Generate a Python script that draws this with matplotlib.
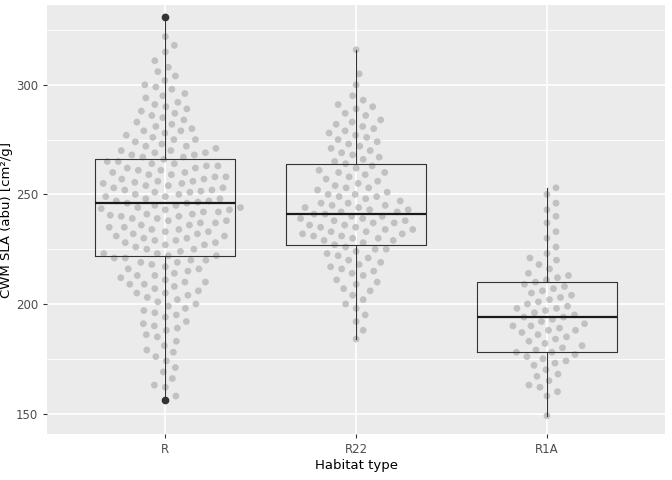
import numpy as np
import matplotlib.pyplot as plt

habitats = ["R", "R22", "R1A"]

sla_r = [156, 158, 162, 163, 166, 169, 171, 174, 176, 178, 179,
         181, 183, 185, 186, 188, 189, 190, 191, 192, 194, 195, 196, 197, 198, 199,
         200, 201, 202, 203, 204, 205, 205, 206, 207, 208, 209, 209,
         210, 210, 211, 212, 213, 213, 214, 215, 216, 216, 217, 218, 219, 219,
         220, 220, 221, 221, 222, 222, 223, 223, 224, 225, 225, 226, 227, 227, 228, 228, 229, 229,
         230, 230, 231, 231, 232, 232, 233, 233, 234, 234, 235, 235, 236, 236, 237, 237, 238, 238, 239, 239,
         240, 240, 241, 241, 242, 242, 243, 243, 244, 244, 245, 245, 246, 246, 247, 247, 248, 248, 249, 249,
         240.5, 243.5, 246.5,
         250, 250, 251, 251, 252, 252, 253, 253, 254, 254, 255, 255, 256, 256, 257, 257, 258, 258, 259, 259,
         251.5, 255.5,
         260, 260, 261, 261, 262, 262, 263, 263, 264, 264, 265, 265, 266, 267, 267, 268, 268, 269, 269,
         270, 270, 271, 272, 272, 273, 274, 275, 275, 276, 277, 278, 279, 279,
         280, 281, 282, 283, 284, 285, 286, 287, 288, 289,
         290, 291, 292, 294, 295, 296, 298, 299, 300, 302, 304, 306, 308,
         311, 315, 318, 322, 331]

sla_r22 = [184, 188, 192, 195, 198, 200, 202, 204, 206, 207, 209,
           210, 211, 213, 214, 215, 216, 217, 218, 219,
           220, 221, 222, 223, 224, 225, 225, 226, 227, 228, 229, 229,
           230, 230, 231, 231, 232, 232, 233, 233, 234, 234, 235, 235, 236, 236, 237, 237, 238, 238, 239, 239,
           240, 240, 241, 241, 242, 242, 243, 243, 244, 244, 245, 245, 246, 246, 247, 248, 249, 249,
           250, 250, 251, 252, 253, 253, 254, 255, 256, 257, 258, 259,
           260, 260, 261, 262, 263, 264, 265, 266, 267, 268, 269,
           270, 271, 272, 273, 274, 275, 276, 277, 278, 279,
           280, 281, 282, 283, 284, 286, 287, 289, 290, 291, 293, 295, 300, 305, 316]

sla_r1a = [149, 158, 160, 162, 163, 165, 167, 168, 170, 172, 173, 174, 175, 176, 177, 178, 178, 179,
           180, 181, 182, 183, 184, 185, 186, 187, 188, 188, 189, 190, 190, 191, 192, 193, 194, 194,
           195, 196, 197, 198, 198, 199, 200, 201, 202, 203, 204, 205, 206, 207, 208, 209, 210, 211,
           212, 213, 214, 216, 218, 220, 221, 223, 226, 230, 233, 237, 240, 243, 246, 250, 253]

# box stats: whisker low, q1, median, q3, whisker high
box_lo = [156, 184, 149]
box_q1 = [222, 227, 178]
box_med = [246, 241, 194]
box_q3 = [266, 264, 210]
box_hi = [331, 316, 253]
outliers = [[156, 331], [], []]

PX_X = 190.5   # px per category
PX_Y = 2.127   # px per y unit
SPACING = 11.0


def swarm(vals):
    ys = np.array(sorted(vals), float)
    placed = []
    xs = []
    for y in ys:
        yp = y * PX_Y
        best = None
        for k in range(0, 600):
            for s in ([0] if k == 0 else [1, -1]):
                cand = s * k * 0.5
                ok = all((cand - px) ** 2 + (yp - py) ** 2 >= SPACING ** 2
                         for px, py in placed if abs(yp - py) < SPACING)
                if ok:
                    best = cand
                    break
            if best is not None:
                break
        placed.append((best, yp))
        xs.append(best / PX_X)
    return np.array(xs), ys


fig, ax = plt.subplots(figsize=(6.72, 4.8), dpi=100)
fig.subplots_adjust(left=0.07, right=0.99, top=0.99, bottom=0.095)
ax.set_facecolor("#EBEBEB")
for s in ax.spines.values():
    s.set_visible(False)

for y in [175, 225, 275, 325]:
    ax.axhline(y, color="white", lw=0.6, zorder=0)
for y in [150, 200, 250, 300]:
    ax.axhline(y, color="white", lw=1.2, zorder=0)
for i in range(3):
    ax.axvline(i, color="white", lw=1.2, zorder=0)

for i, vals in enumerate([sla_r, sla_r22, sla_r1a]):
    dx, ys = swarm(vals)
    ax.scatter(i + dx, ys, s=24, color="#b3b3b3", alpha=0.75, edgecolors="none", zorder=2)

stats = []
for i in range(3):
    stats.append(dict(whislo=box_lo[i], q1=box_q1[i], med=box_med[i], q3=box_q3[i],
                      whishi=box_hi[i], fliers=outliers[i]))
ax.bxp(stats, positions=range(3), widths=0.735, showcaps=False,
       boxprops=dict(color="#333333", lw=0.8),
       whiskerprops=dict(color="#333333", lw=0.8),
       medianprops=dict(color="#1a1a1a", lw=1.6),
       flierprops=dict(marker="o", markerfacecolor="#333333", markeredgecolor="#333333", markersize=4.5),
       zorder=3)

ax.set_xlim(-0.62, 2.62)
ax.set_ylim(140.5, 336.5)
ax.set_yticks([150, 200, 250, 300])
ax.set_xticks(range(3))
ax.set_xticklabels(habitats)
ax.tick_params(labelcolor="#4d4d4d", labelsize=8.5, length=3, color="#333333")
ax.set_xlabel("Habitat type", fontsize=9.5, labelpad=2)
ax.set_ylabel("CWM SLA (abu) [cm²/g]", fontsize=9.5, labelpad=2)

fig.savefig("out.png", dpi=100)
